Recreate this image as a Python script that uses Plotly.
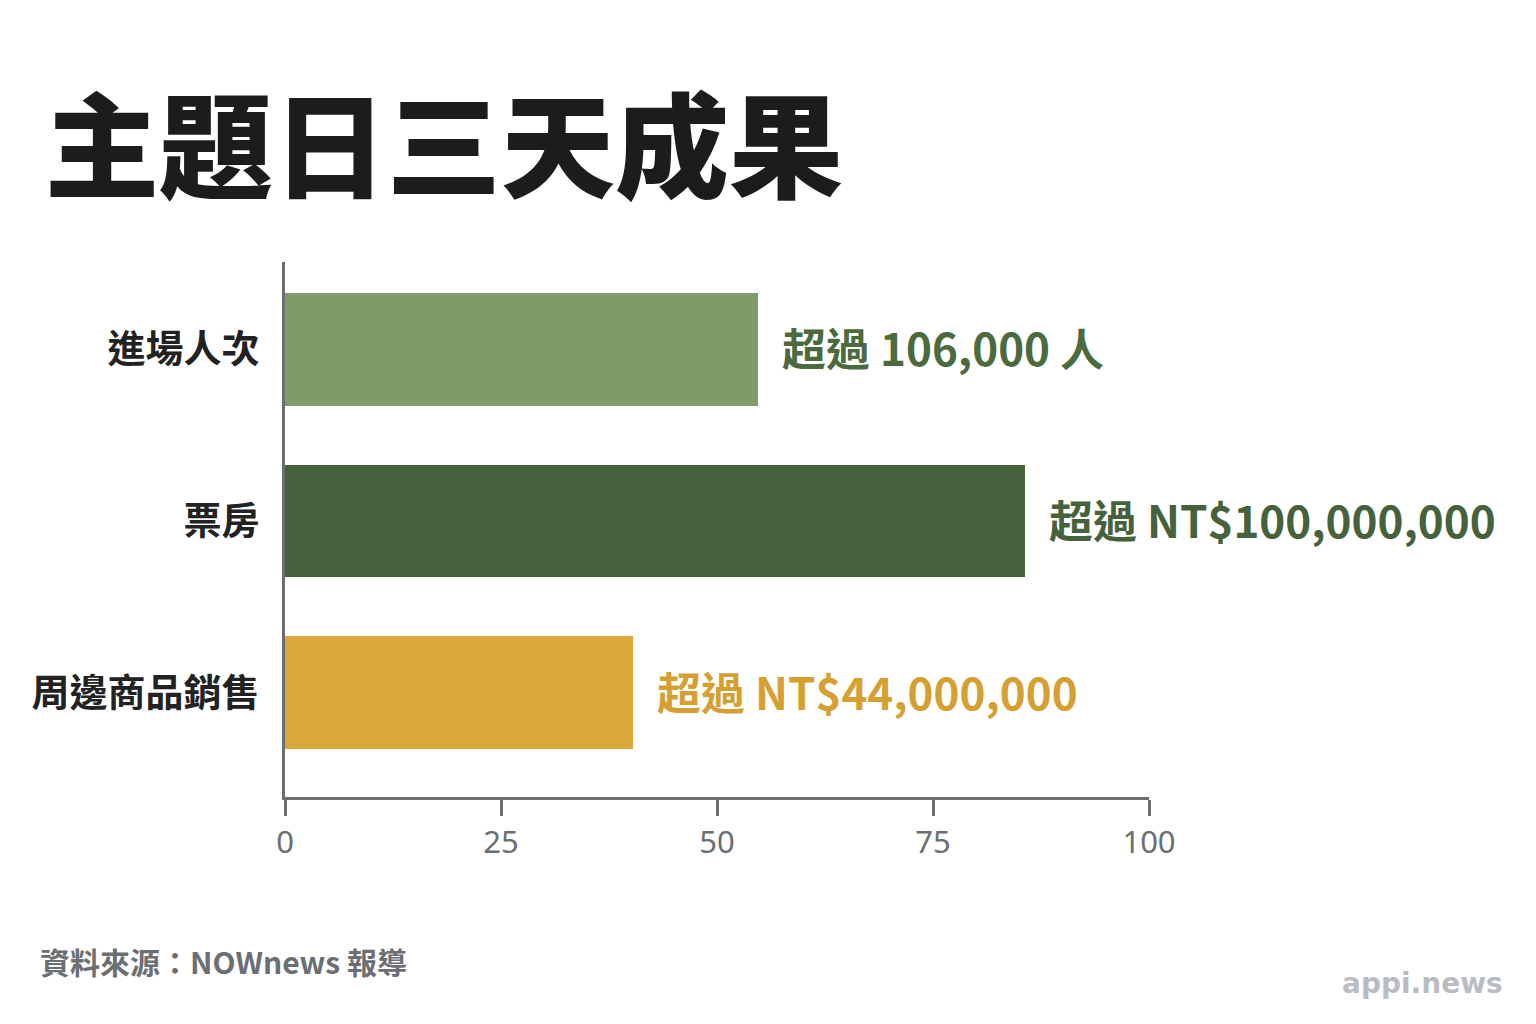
import plotly.graph_objects as go

categories = ["進場人次", "票房", "周邊商品銷售"]
values = [54.7, 85.6, 40.3]
value_labels = ["超過 106,000 人", "超過 NT$100,000,000", "超過 NT$44,000,000"]
bar_colors = ["#7f9b67", "#46623c", "#dca83c"]
label_colors = ["#4b6a3d", "#46623c", "#d69f32"]
tick_vals = [0, 25, 50, 75, 100]
title_text = "主題日三天成果"
source_text = "資料來源：NOWnews 報導"
watermark_text = "appi.news"

CJK = "Noto Sans CJK TC, Noto Sans, sans-serif"
GRAY = "#6b6e72"

W, H = 1536, 1024
OFF = 8  # page body margin offset
# screen-pixel plot area
X0, X1, Y0, Y1 = 285, 1149, 262, 797
L, R, T, B = X0 - OFF, W - (X1 - OFF), Y0 - OFF, H - (Y1 - OFF)
pw, ph = X1 - X0, Y1 - Y0


def px_to_paper(sx, sy):
    return (sx - X0) / pw, 1 - (sy - Y0) / ph


fig = go.Figure()
fig.add_trace(go.Bar(
    y=categories, x=values, orientation="h",
    marker=dict(color=bar_colors, line=dict(width=0)),
    width=0.657, hoverinfo="skip",
))

for cat, val, txt, col in zip(categories, values, value_labels, label_colors):
    fig.add_annotation(
        x=val, y=cat, xref="x", yref="y", text=txt, showarrow=False,
        xanchor="left", yanchor="middle", xshift=22, yshift=2,
        font=dict(family=CJK, size=44, color=col, weight="bold"),
    )

tx, ty = px_to_paper(43, 140)
fig.add_annotation(
    x=tx, y=ty, xref="paper", yref="paper",
    text=title_text, showarrow=False, xanchor="left", yanchor="middle",
    font=dict(family=CJK, size=114, color="#1c1c1c", weight=900),
)
sx, sy = px_to_paper(38, 961)
fig.add_annotation(
    x=sx, y=sy, xref="paper", yref="paper",
    text=source_text, showarrow=False, xanchor="left", yanchor="middle",
    font=dict(family=CJK, size=30, color=GRAY, weight="bold"),
)
wx, wy = px_to_paper(1505, 983)
fig.add_annotation(
    x=wx, y=wy, xref="paper", yref="paper",
    text=watermark_text, showarrow=False, xanchor="right", yanchor="middle",
    font=dict(family="DejaVu Sans, sans-serif", size=28, color="#b9bcc2", weight="bold"),
)

fig.update_layout(
    width=W, height=H,
    margin=dict(l=L, r=R, t=T, b=B, autoexpand=False),
    paper_bgcolor="white", plot_bgcolor="white",
    showlegend=False, bargap=0,
    xaxis=dict(
        range=[0, 100], tickvals=tick_vals, showgrid=False, zeroline=False,
        showline=True, linecolor=GRAY, linewidth=3,
        ticks="outside", ticklen=16, tickwidth=3, tickcolor=GRAY,
        tickfont=dict(family="Noto Sans, sans-serif", size=31, color=GRAY),
        fixedrange=True,
    ),
    yaxis=dict(
        categoryorder="array", categoryarray=categories,
        range=[2.605, -0.506], showgrid=False, zeroline=False,
        showline=True, linecolor=GRAY, linewidth=3, ticks="",
        ticklabelstandoff=15,
        tickfont=dict(family=CJK, size=38, color="#222222", weight="bold"),
        fixedrange=True,
    ),
)

fig.write_html("out.html")
